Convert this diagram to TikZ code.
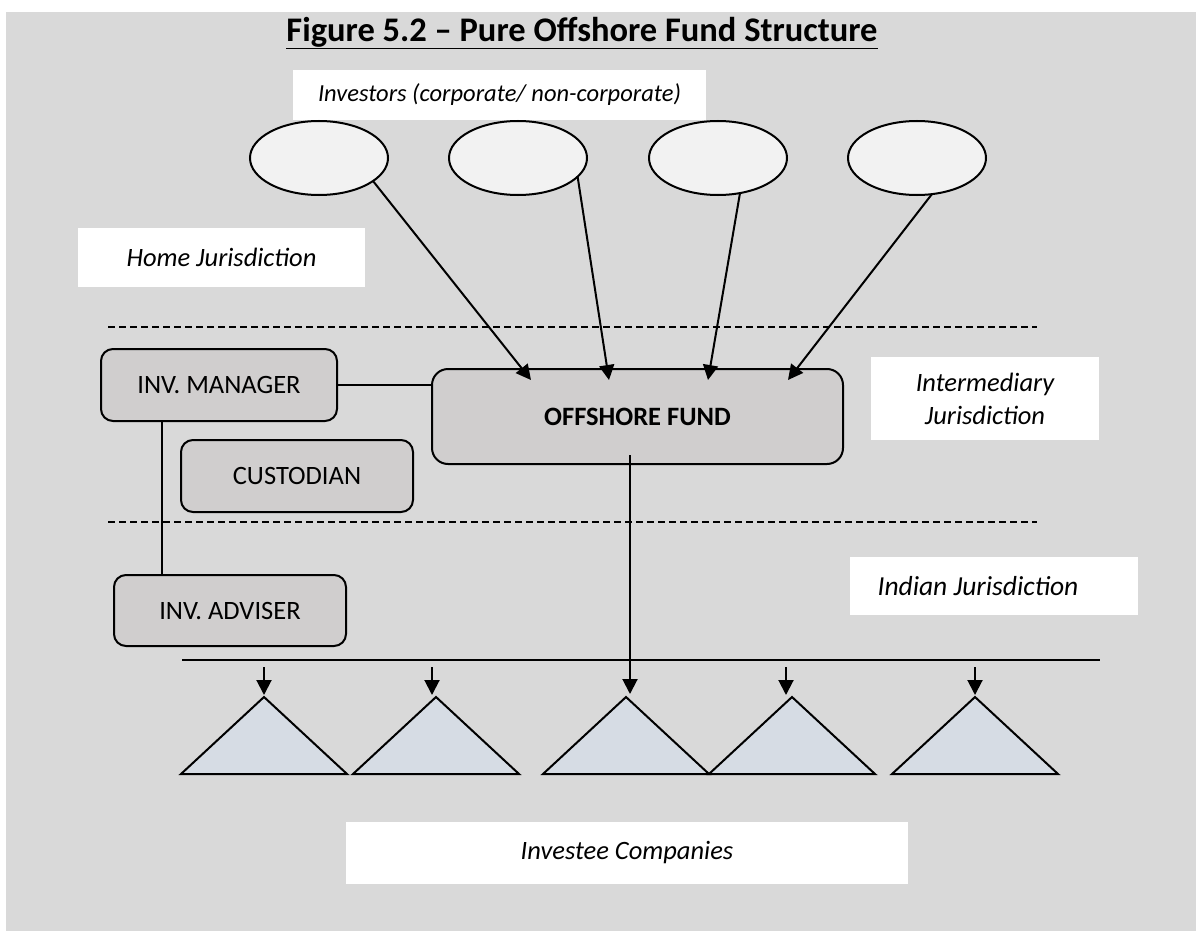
\documentclass[tikz,border=0pt]{standalone}
\usepackage{fontspec}
\setmainfont{Carlito}
\usetikzlibrary{arrows.meta,shapes.geometric,calc}
\definecolor{bg}{HTML}{D9D9D9}
\definecolor{boxgray}{HTML}{D0CECE}
\definecolor{ellfill}{HTML}{F2F2F2}
\definecolor{trifill}{HTML}{D6DCE4}
\begin{document}
\begin{tikzpicture}[x=1pt,y=-1pt,
  lbl/.style={fill=white, inner sep=0pt, align=center, font=\fontsize{26.5}{33}\selectfont\itshape},
  rbox/.style={draw, line width=2pt, fill=boxgray, rounded corners=12pt, inner sep=0pt, font=\fontsize{26.5}{30}\selectfont},
  inv/.style={ellipse, draw, line width=2pt, fill=ellfill, inner sep=0pt, minimum width=138pt, minimum height=74pt},
  arr/.style={line width=2pt, -{Triangle[length=15pt,width=15pt]}},
  tri/.style={draw, line width=2pt, fill=trifill, line join=miter},
  dash line/.style={line width=2pt, dash pattern=on 7pt off 4pt},
  plain/.style={line width=2pt}]
\useasboundingbox (0,0) rectangle (1196,931);
\fill[bg] (6,12) rectangle (1196,931);

% title
\node (title) at (582,33) {\fontsize{34.5}{38}\selectfont\bfseries\underline{Figure 5.2 – Pure Offshore Fund Structure}};

% labels
\node[lbl, minimum width=413pt, minimum height=50pt, font=\fontsize{24.5}{28}\selectfont\itshape] (investors) at (499.5,95) {Investors (corporate/ non-corporate)};
\node[lbl, minimum width=287pt, minimum height=59pt] (home) at (221.5,257.5) {Home Jurisdiction};
\node[lbl, minimum width=228pt, minimum height=83pt] (inter) at (985,398.5) {Intermediary\\Jurisdiction};
\fill[white] (850,557) rectangle (1138,615);
\node[lbl, font=\fontsize{27.5}{32}\selectfont\itshape] (indian) at (978,586) {Indian Jurisdiction};
\node[lbl, minimum width=562pt, minimum height=62pt] (investee) at (627,853) {Investee Companies};

% investors ellipses
\node[inv] (e1) at (319,158) {};
\node[inv] (e2) at (518,158) {};
\node[inv] (e3) at (718,158) {};
\node[inv] (e4) at (917,158) {};

% dashed lines
\draw[dash line] (108,327) -- (1037,327);
\draw[dash line] (108,522) -- (1037,522);

% boxes
\node[rbox, minimum width=411pt, minimum height=95pt, rounded corners=16pt] (fund) at (637.5,416.5) {\bfseries OFFSHORE FUND};
\node[rbox, minimum width=236pt, minimum height=72pt] (mgr) at (219,385) {INV. MANAGER};
\node[rbox, minimum width=232pt, minimum height=72pt] (cust) at (297,476) {CUSTODIAN};
\node[rbox, minimum width=232pt, minimum height=71pt] (adv) at (230,610.5) {INV. ADVISER};

% investor arrows
\coordinate (f1) at (531,380);
\coordinate (f2) at (609,380);
\coordinate (f3) at (708,380);
\coordinate (f4) at (788,380);
\draw[arr] ($(e1)+(54,23)$) -- (f1);
\draw[arr] ($(e2)+(59.6,18.6)$) -- (f2);
\draw[arr] ($(e3)+(22,35)$) -- (f3);
\draw[arr] ($(e4)+(15,36)$) -- (f4);

% manager links
\draw[plain] (mgr.east) -- (mgr.east -| fund.west);
\draw[plain] ([xshift=-57pt]mgr.south) -- ([xshift=-68pt]adv.north);

% horizontal distribution line
\coordinate (hl1) at (182,660);
\coordinate (hl2) at (1100,660);
\draw[plain] (hl1) -- (hl2);

% triangles (investee companies)
\coordinate (t1) at (264,697);
\coordinate (t2) at (436,697);
\coordinate (t3) at (626,697);
\coordinate (t4) at (792,697);
\coordinate (t5) at (975,697);
\foreach \t in {t1,t2,t3,t4,t5}
  \draw[tri] (\t) -- ++(83,77) -- ++(-166,0) -- cycle;

% arrows to companies
\draw[arr] (264,667) -- ([yshift=2pt]t1);
\draw[arr] (432,667) -- ([yshift=2pt,xshift=-4pt]t2);
\draw[arr] ([xshift=-7.5pt,yshift=10pt]fund.south) -- (630,694);
\draw[arr] (786,667) -- ([yshift=2pt,xshift=-6pt]t4);
\draw[arr] (975,667) -- ([yshift=2pt]t5);
\end{tikzpicture}
\end{document}
